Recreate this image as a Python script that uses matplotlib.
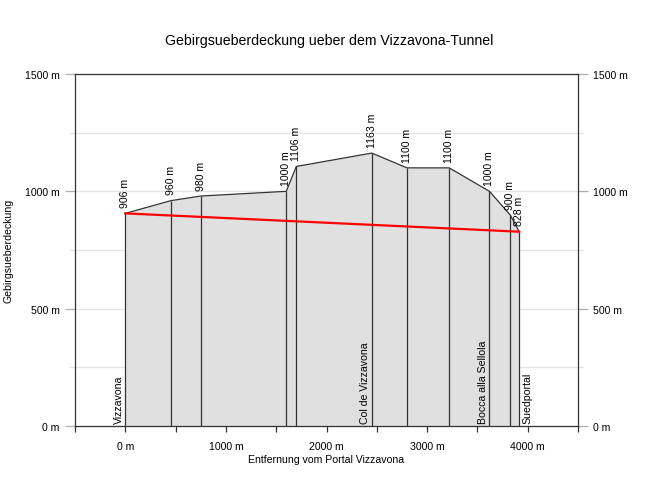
import matplotlib
matplotlib.use("Agg")
import matplotlib.pyplot as plt
import matplotlib.transforms as mtransforms

plt.rcParams['font.family'] = ['Liberation Sans', 'DejaVu Sans']

# Profile of the ground above the tunnel
dist = [0, 450, 750, 1600, 1700, 2450, 2800, 3220, 3620, 3825, 3916]
elev = [906, 960, 980, 1000, 1106, 1163, 1100, 1100, 1000, 900, 828]

# Tunnel axis (portal to portal)
tunnel_x = [0, 3916]
tunnel_z = [906, 828]

# Named locations along the route
place_names = ["Vizzavona", "Col de Vizzavona", "Bocca alla Sellola", "Suedportal"]
place_x = [0, 2450, 3620, 3916]
place_side = ["right", "right", "right", "left"]

x_ticks = [-500, 0, 500, 1000, 1500, 2000, 2500, 3000, 3500, 4000, 4500]
x_labels = ["", "0 m", "", "1000 m", "", "2000 m", "", "3000 m", "", "4000 m", ""]
y_ticks = [0, 500, 1000, 1500]
y_labels = ["0 m", "500 m", "1000 m", "1500 m"]
grid_levels = [0, 250, 500, 750, 1000, 1250, 1500]

fig = plt.figure(figsize=(6.5, 5.02), dpi=100)
ax = fig.add_axes([75 / 650, 1 - 427 / 502, 503 / 650, 352 / 502])
ax.set_xlim(-500, 4500)
ax.set_ylim(0, 1500)

edge = "#333333"
fs = 7.6

# light horizontal grid, running slightly past the frame
blend = mtransforms.blended_transform_factory(ax.transAxes, ax.transData)
for g in grid_levels:
    ax.plot([-0.01, 1.01], [g, g], transform=blend, color="#e4e4e4",
            lw=0.9, zorder=0, clip_on=False)

# ground body
ax.fill_between(dist, 0, elev, color="#e0e0e0", zorder=1, lw=0)
ax.plot(dist, elev, color=edge, lw=0.9, zorder=3)
ax.vlines(dist, 0, elev, color=edge, lw=0.9, zorder=3)

# tunnel
ax.plot(tunnel_x, tunnel_z, color="#ff0000", lw=1.6, zorder=4)

# elevation labels
for x, z in zip(dist, elev):
    ax.annotate(f"{z} m", (x, z), xytext=(0, 4.5), textcoords="offset points",
                rotation=90, ha="center", va="bottom", fontsize=fs, zorder=5)

# place labels
for name, x, side in zip(place_names, place_x, place_side):
    dx = -1 if side == "right" else 2
    ax.annotate(name, (x, 0), xytext=(dx, 2), textcoords="offset points",
                rotation=90, ha=side, va="bottom", fontsize=fs, zorder=5)

for s in ax.spines.values():
    s.set_color(edge)
    s.set_linewidth(0.9)
    s.set_zorder(6)

ax.set_xticks(x_ticks)
ax.set_xticklabels(x_labels)
ax.tick_params(axis="x", direction="out", length=4, width=0.9, color=edge,
               pad=7, labelsize=fs)

ax.set_yticks(y_ticks)
ax.set_yticklabels(y_labels)
ax.tick_params(axis="y", direction="out", length=7, width=0.9, color="#b0b0b0",
               pad=4, labelsize=fs, left=True, right=True,
               labelleft=True, labelright=True)

ax.set_xlabel("Entfernung vom Portal Vizzavona", fontsize=fs, labelpad=2)
ax.set_ylabel("Gebirgsueberdeckung", fontsize=fs)
ax.yaxis.set_label_coords((14 - 75) / 503, 0.5)

fig.text(329 / 650, 1 - 41 / 502, "Gebirgsueberdeckung ueber dem Vizzavona-Tunnel",
         ha="center", va="center", fontsize=10.2)

fig.savefig("out.png", dpi=100)
